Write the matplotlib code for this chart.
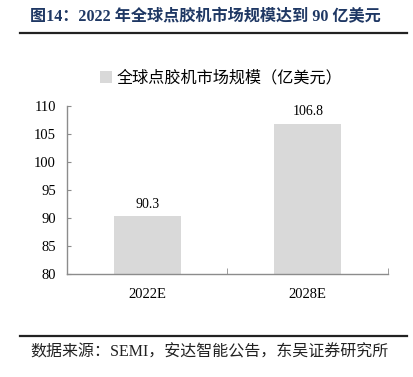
import matplotlib.pyplot as plt
from matplotlib.lines import Line2D

# ---- Data ----
categories = ["2022E", "2028E"]
market_size = [90.3, 106.8]
legend_label = "全球点胶机市场规模（亿美元）"
title_text = "图14：2022 年全球点胶机市场规模达到 90 亿美元"
source_text = "数据来源：SEMI，安达智能公告，东吴证券研究所"
yticks = [80, 85, 90, 95, 100, 105, 110]

serif_cjk = ["Liberation Serif", "Noto Sans CJK SC"]
bar_color = "#d9d9d9"
axis_color = "#8c8c8c"

fig = plt.figure(figsize=(4.14, 3.77), dpi=100)
ax = fig.add_axes([0.1618, 0.2732, 0.7754, 0.4456])

x = list(range(len(categories)))
bars = ax.bar(x, market_size, width=0.42, color=bar_color, label=legend_label)

for xi, v in zip(x, market_size):
    ax.text(xi, v + 1.0, f"{v:.1f}", ha="center", va="bottom",
            fontsize=10, family=serif_cjk)

ax.set_xlim(-0.5, 1.5)
ax.set_ylim(80, 110)
ax.set_yticks(yticks)
ax.set_yticklabels([str(t) for t in yticks], family=serif_cjk, fontsize=10.5)
ax.set_xticks(x)
ax.set_xticklabels(categories, family=serif_cjk, fontsize=10.5)
ax.set_xticks([0.5, 1.5], minor=True)
ax.tick_params(axis="x", which="major", length=0, pad=10)
ax.tick_params(axis="x", which="minor", direction="in", length=4, color=axis_color)
ax.tick_params(axis="y", direction="in", length=3, color=axis_color, pad=8)

for s in ["top", "right"]:
    ax.spines[s].set_visible(False)
for s in ["left", "bottom"]:
    ax.spines[s].set_color(axis_color)
    ax.spines[s].set_linewidth(1.0)

leg = ax.legend(loc="lower center", bbox_to_anchor=(0.48, 1.03), frameon=False,
                prop={"family": serif_cjk, "size": 11.6},
                handlelength=0.75, handleheight=0.75, handletextpad=0.3)

# ---- Title, rules and source ----
fig.text(30 / 414, 1 - 17 / 377, title_text, ha="left", va="center",
         fontsize=11.6, fontweight="bold", color="#1f3864", family=serif_cjk)
fig.add_artist(Line2D([20 / 414, 407 / 414], [1 - 32.5 / 377] * 2,
                      color="#222222", linewidth=1.6, transform=fig.transFigure))
fig.add_artist(Line2D([20 / 414, 407 / 414], [1 - 336 / 377] * 2,
                      color="#222222", linewidth=1.6, transform=fig.transFigure))
fig.text(30 / 414, 1 - 352 / 377, source_text, ha="left", va="center",
         fontsize=11.5, color="#222222", family=serif_cjk)

fig.savefig("out.png", dpi=100)
